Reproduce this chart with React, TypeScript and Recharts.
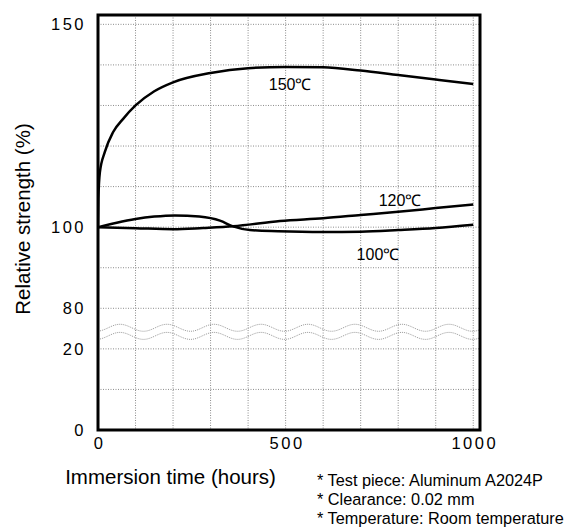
import {
  CartesianGrid,
  ComposedChart,
  Customized,
  Line,
  ReferenceArea,
  ReferenceDot,
  XAxis,
  YAxis,
} from "recharts";

// values (hours, relative strength %)
const hours150 = [0, 1, 5, 18, 40, 67, 100, 150, 200, 300, 400, 500, 600, 700, 800, 900, 1000];
const strength150 = [100, 107, 113.5, 118.5, 123.4, 126.7, 130, 133.5, 135.7, 138, 139.2, 139.5, 139.4, 138.6, 137.5, 136.4, 135.3];

const hours120 = [0, 100, 200, 280, 360, 485, 600, 700, 800, 900, 1000];
const strength120 = [100, 99.75, 99.5, 99.8, 100.2, 101.5, 102.2, 103.0, 103.8, 104.7, 105.6];

const hours100 = [0, 50, 100, 150, 205, 270, 325, 360, 405, 480, 600, 700, 800, 900, 1000];
const strength100 = [100, 101.1, 102.0, 102.6, 102.9, 102.6, 101.6, 100.2, 99.3, 99.0, 98.8, 98.9, 99.3, 99.8, 100.6];

const xTicks = [0, 100, 200, 300, 400, 500, 600, 700, 800, 900, 1000];
const xLabels = [0, 500, 1000];
// y axis is broken between 20 and 80, each grid step is 10 %
const yTickValues = [0, 10, 20, 80, 90, 100, 110, 120, 130, 140, 150];
const yLabels = [0, 20, 80, 100, 150];

const notes = [
  "* Test piece: Aluminum A2024P",
  "* Clearance: 0.02 mm",
  "* Temperature: Room temperature",
];

const FONT = "'Liberation Sans', Arial, Helvetica, sans-serif";

// map strength onto the broken axis
const toPos = (v: number) => (v >= 80 ? v / 10 - 5 : v / 10);
const fromPos = (p: number) => (p >= 3 ? (p + 5) * 10 : p * 10);

const series = (hours: number[], vals: number[]) =>
  hours.map((h, i) => ({ h, p: toPos(vals[i]) }));

const data150 = series(hours150, strength150);
const data120 = series(hours120, strength120);
const data100 = series(hours100, strength100);

const X_MAX = 1018;
const Y_MAX = 10.23;

const YTick = (props: any) => {
  const v = Math.round(fromPos(props.payload.value));
  if (!yLabels.includes(v)) return null;
  return (
    <text x={86} y={props.y + 6} textAnchor="end" fontFamily={FONT} fontSize={16.5} letterSpacing={2.5} fill="#000">
      {v}
    </text>
  );
};

const XTick = (props: any) => {
  const v = props.payload.value;
  if (!xLabels.includes(v)) return null;
  return (
    <text x={props.x + 1.5} y={449} textAnchor="middle" fontFamily={FONT} fontSize={16.5} letterSpacing={2.5} fill="#000">
      {v}
    </text>
  );
};

const WaveBreak = (props: any) => {
  const { x, y, width, height } = props;
  const period = 47;
  const amp = 3.5;
  const phase = 22;
  const paths = [y, y + height].map((base) => {
    let d = "";
    for (let dx = 0; dx <= width; dx += 1) {
      const yy = base - amp * Math.cos((2 * Math.PI * (dx - phase)) / period);
      d += (dx === 0 ? "M" : "L") + (x + dx) + "," + yy.toFixed(2);
    }
    return d;
  });
  return (
    <g>
      {paths.map((d, i) => (
        <path key={i} d={d} fill="none" stroke="#9a9a9a" strokeWidth={1} strokeDasharray="1 1" />
      ))}
    </g>
  );
};

const Texts = () => (
  <g fontFamily={FONT} fill="#000">
    <text transform="translate(30, 219) rotate(-90)" textAnchor="middle" fontSize={20.5}>
      Relative strength (%)
    </text>
    <text x={170.5} y={484} textAnchor="middle" fontSize={20.5}>
      Immersion time (hours)
    </text>
    {notes.map((n, i) => (
      <text key={n} x={317} y={486 + i * 19} fontSize={16.3}>
        {n}
      </text>
    ))}
  </g>
);

const seriesLabel = (value: string) => ({
  value,
  position: "center" as const,
  fill: "#000",
  fontSize: 16,
  fontFamily: FONT,
});

export default function App() {
  return (
    <div style={{ position: "absolute", left: 0, top: 0, background: "#fff" }}>
      <ComposedChart
        width={569}
        height={527}
        margin={{ top: 15, right: 89, bottom: 67, left: 0 }}
      >
        <CartesianGrid stroke="#8c8c8c" strokeDasharray="1 1.5" />
        <XAxis
          type="number"
          dataKey="h"
          domain={[0, X_MAX]}
          ticks={xTicks}
          allowDataOverflow
          height={30}
          axisLine={false}
          tickLine={false}
          tick={<XTick />}
        />
        <YAxis
          type="number"
          dataKey="p"
          domain={[0, Y_MAX]}
          ticks={yTickValues.map(toPos)}
          allowDataOverflow
          width={98}
          axisLine={false}
          tickLine={false}
          tick={<YTick />}
        />
        <ReferenceArea x1={0} x2={X_MAX} y1={2.32} y2={2.52} shape={<WaveBreak />} />
        <Line data={data150} dataKey="p" type="monotone" stroke="#000" strokeWidth={2.5} dot={false} isAnimationActive={false} />
        <Line data={data120} dataKey="p" type="monotone" stroke="#000" strokeWidth={2.5} dot={false} isAnimationActive={false} />
        <Line data={data100} dataKey="p" type="monotone" stroke="#000" strokeWidth={2.5} dot={false} isAnimationActive={false} />
        <ReferenceDot x={512} y={toPos(135.1)} r={0} stroke="none" fill="none" label={seriesLabel("150℃")} />
        <ReferenceDot x={805} y={toPos(106.7)} r={0} stroke="none" fill="none" label={seriesLabel("120℃")} />
        <ReferenceDot x={746} y={toPos(93.4)} r={0} stroke="none" fill="none" label={seriesLabel("100℃")} />
        <ReferenceArea x1={0} x2={X_MAX} y1={0} y2={Y_MAX} fill="none" stroke="#000" strokeWidth={3} />
        <Customized component={<Texts />} />
      </ComposedChart>
    </div>
  );
}
